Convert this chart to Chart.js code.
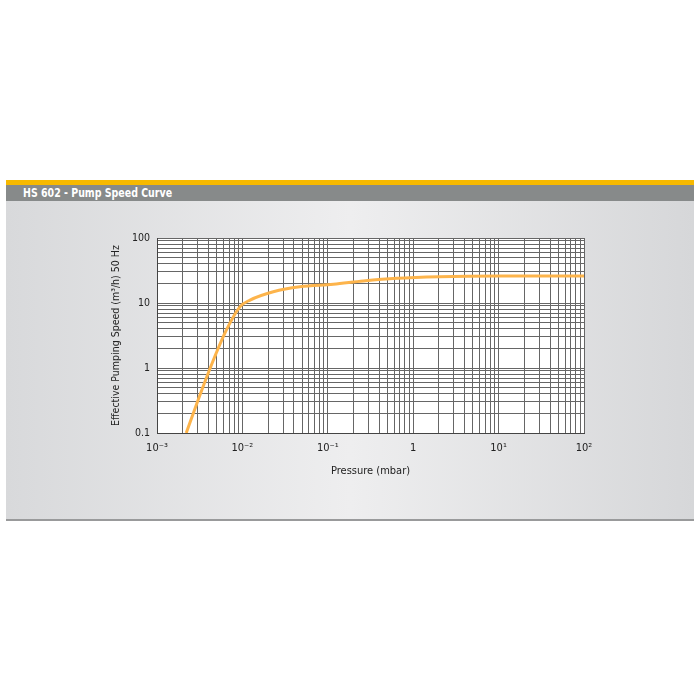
<!DOCTYPE html>
<html>
<head>
<meta charset="utf-8">
<script src="https://cdn.jsdelivr.net/npm/chart.js@4/dist/chart.umd.min.js"></script>
<style>
  body { margin: 0; background: #fff; width: 700px; height: 700px; position: relative; overflow: hidden; }
  #panel { position: absolute; left: 6px; top: 180px; width: 688px; height: 341px; }
  #bar { height: 5px; background: #f7b900; }
  #head { height: 16px; background: #878a8a; color: #fff; font: bold 12.5px 'Liberation Sans Narrow', 'DejaVu Sans Condensed', sans-serif; line-height: 16px; padding-left: 17px; }
  #head span { display: inline-block; transform: scaleX(0.84); transform-origin: left center; }
  #body { height: 318px; background: linear-gradient(to right, #d8d9db 0%, #eeeeef 50%, #d6d7d9 100%); }
  #foot { height: 2px; background: #999a9b; }
  canvas { position: absolute; left: 0; top: 0; }
</style>
</head>
<body>
<div id="panel">
  <div id="bar"></div>
  <div id="head"><span>HS 602 - Pump Speed Curve</span></div>
  <div id="body"></div>
  <div id="foot"></div>
</div>
<canvas id="chart" width="700" height="700"></canvas>
<script>
// Кривая скорости откачки
const pressure = [0.0022, 0.003, 0.0042, 0.0065, 0.0094, 0.0123, 0.023, 0.047, 0.116, 0.26, 0.64, 2, 10, 100];
const speed    = [0.1,    0.31,  1.0,    3.85,   8.8,    11.1,   14.9,  17.8,  19.4,  21.8, 24,   25.4, 26, 26];

const xTickValues = [0.001, 0.01, 0.1, 1, 10, 100];
const xTickLabels = ["10⁻³", "10⁻²", "10⁻¹", "1", "10¹", "10²"];
const yTickValues = [0.1, 1, 10, 100];
const yTickLabels = ["0.1", "1", "10", "100"];

const fontFamily = "'Liberation Sans Narrow', 'DejaVu Sans Condensed', sans-serif";
Chart.defaults.font.family = fontFamily;
Chart.defaults.color = "#222";

// деления 1..9 в каждой декаде
function decadeTicks(min, max) {
  const ticks = [];
  for (let e = Math.round(Math.log10(min)); e < Math.round(Math.log10(max)); e++) {
    for (let m = 1; m < 10; m++) {
      ticks.push({ value: Number((m * Math.pow(10, e)).toPrecision(3)) });
    }
  }
  ticks.push({ value: max });
  return ticks;
}

function labelFor(values, labels, v) {
  const i = values.findIndex(t => Math.abs(t - v) / t < 1e-6);
  return i >= 0 ? labels[i] : "";
}

const plotBackground = {
  id: "plotBackground",
  beforeDraw(chart) {
    const { ctx, chartArea } = chart;
    ctx.save();
    ctx.fillStyle = "#fff";
    ctx.fillRect(chartArea.left, chartArea.top, chartArea.right - chartArea.left, chartArea.bottom - chartArea.top);
    ctx.restore();
  }
};

new Chart(document.getElementById("chart"), {
  type: "line",
  data: {
    datasets: [{
      data: pressure.map((p, i) => ({ x: p, y: speed[i] })),
      borderColor: "#fdb44b",
      borderWidth: 3,
      pointRadius: 0,
      cubicInterpolationMode: "monotone",
      fill: false,
    }],
  },
  options: {
    responsive: false,
    animation: false,
    layout: { padding: { left: 106, top: 238, right: 116, bottom: 218 } },
    plugins: { legend: { display: false }, tooltip: { enabled: false } },
    scales: {
      x: {
        type: "logarithmic",
        min: 0.001,
        max: 100,
        afterBuildTicks: s => { s.ticks = decadeTicks(0.001, 100); },
        afterFit: s => { s.height = 49; },
        grid: { color: "#666", lineWidth: 1, drawTicks: false },
        border: { color: "#444", width: 1 },
        ticks: {
          autoSkip: false,
          maxRotation: 0,
          padding: 9,
          font: { size: 11 },
          callback: v => labelFor(xTickValues, xTickLabels, v),
        },
        title: { display: true, text: "Pressure (mbar)", font: { size: 11 } },
      },
      y: {
        type: "logarithmic",
        min: 0.1,
        max: 100,
        afterBuildTicks: s => { s.ticks = decadeTicks(0.1, 100); },
        afterFit: s => { s.width = 51; },
        grid: { color: "#666", lineWidth: 1, drawTicks: false },
        border: { color: "#444", width: 1 },
        ticks: {
          autoSkip: false,
          padding: 7,
          font: { size: 10.5 },
          callback: v => labelFor(yTickValues, yTickLabels, v),
        },
        title: { display: true, text: "Effective Pumping Speed (m³/h) 50 Hz", font: { size: 10.5 } },
      },
    },
  },
  plugins: [plotBackground],
});
</script>
</body>
</html>
